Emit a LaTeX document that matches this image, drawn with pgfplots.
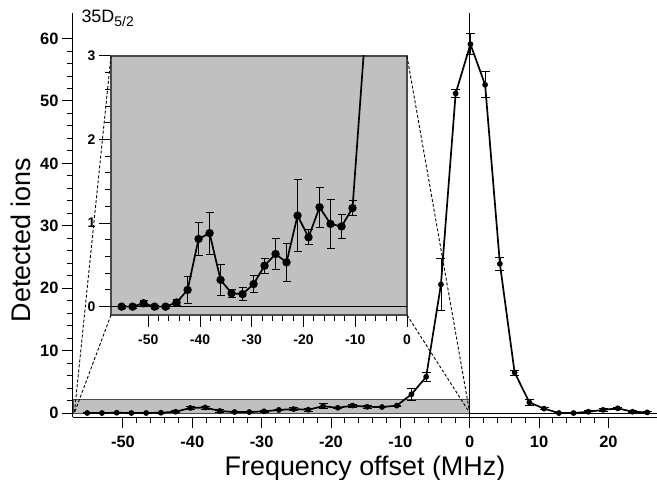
\documentclass[border=0pt]{standalone}
\usepackage{pgfplots}
\pgfplotsset{compat=1.18}
\usepackage{pgfplotstable}
\usepackage{fontspec}
\setmainfont{Liberation Sans}
\definecolor{zoomgray}{HTML}{C0C0C0}
\definecolor{edgegray}{HTML}{4A4A4A}

% frequency offset (MHz), detected ions, error
\pgfplotstableread{
x y e
-55.15 0.00 0.02
-53.03 0.00 0.02
-50.90 0.04 0.03
-48.78 0.00 0.02
-46.65 0.00 0.02
-44.53 0.05 0.04
-42.40 0.20 0.16
-40.28 0.81 0.20
-38.15 0.88 0.25
-36.03 0.32 0.18
-33.90 0.16 0.05
-31.78 0.15 0.08
-29.65 0.27 0.10
-27.53 0.49 0.09
-25.40 0.63 0.19
-23.28 0.53 0.23
-21.15 1.09 0.43
-19.03 0.83 0.09
-16.90 1.19 0.24
-14.78 0.99 0.29
-12.65 0.96 0.14
-10.53 1.18 0.09
-8.40 3.00 0.90
-6.28 5.80 0.75
-4.15 20.6 4.1
-2.03 51.2 0.7
0.10 59.1 1.7
2.22 52.6 2.1
4.35 23.9 1.0
6.47 6.5 0.4
8.60 1.7 0.5
10.72 0.7 0.2
12.85 0.0 0.1
14.97 0.0 0.1
17.10 0.2 0.2
19.22 0.5 0.3
21.35 0.75 0.2
23.47 0.2 0.15
25.60 0.1 0.1
}\spectrum

\begin{document}
\begin{tikzpicture}
\begin{axis}[name=main, scale only axis, width=584bp, height=404bp,
  xmin=-57.2, xmax=27, ymin=-0.64, ymax=64.1, clip=false,
  axis x line=bottom, axis y line=left, axis line style={-, line width=1bp},
  tick align=outside, xtick={-50,-40,...,20}, ytick={0,10,...,60}, minor tick num=4,
  major tick length=11bp, minor tick length=6bp,
  every tick/.style={black, line width=1bp},
  ticklabel style={font=\fontsize{16.5}{16.5}\selectfont\bfseries},
  xticklabel style={yshift=-4bp},
  /pgf/number format/assume math mode=true,
  xlabel={Frequency offset (MHz)}, ylabel={Detected ions},
  label style={font=\fontsize{27}{27}\selectfont},
  xlabel style={at={(rel axis cs:0.5,-0.1436)}, anchor=base},
  ylabel style={at={(rel axis cs:-0.0736,0.438)}, anchor=base}]
\fill[zoomgray, draw=edgegray, line width=0.8bp] (axis cs:-57.2,-0.05) rectangle (axis cs:0,2.25);
\draw[line width=1bp] (axis cs:0,-0.64) -- (axis cs:0,64.1);
\draw[line width=1bp] (axis cs:0,0) -- (axis cs:27,0);
\coordinate (zl) at (axis cs:-57.0,0);
\coordinate (zr) at (axis cs:0,0);
\addplot[black, line width=1.7bp, mark=*, mark size=2bp,
  error bars/.cd, y dir=both, y explicit,
  error bar style={line width=0.8bp},
  error mark options={rotate=90, mark size=4.5bp, line width=0.8bp}]
  table[x=x, y=y, y error=e] {\spectrum};
\node[anchor=base west, font=\fontsize{18}{18}\selectfont, inner sep=0pt]
  at (axis cs:-56.0,62.5) {35D\raisebox{-4bp}{\fontsize{14}{14}\selectfont 5/2}};
\end{axis}

\begin{axis}[name=inset, at={(38bp,102bp)}, anchor=south west,
  scale only axis, width=296bp, height=259bp,
  xmin=-57.2, xmax=0, ymin=-0.1, ymax=3,
  axis background/.style={fill=zoomgray},
  axis line style={edgegray, line width=1.2bp},
  tick align=outside, xtick={-50,-40,...,0}, ytick={0,1,2,3}, minor tick num=4,
  xtick pos=bottom, ytick pos=left,
  major tick length=12bp, minor tick length=6bp,
  every tick/.style={black, line width=1bp},
  ticklabel style={font=\fontsize{14}{14}\selectfont\bfseries},
  xticklabel style={yshift=-4bp},
  /pgf/number format/assume math mode=true]
\draw[line width=1bp] (axis cs:-57.2,0) -- (axis cs:0,0);
\addplot[black, line width=1.7bp, restrict x to domain=-11:-3, forget plot]
  table[x=x, y=y] {\spectrum};
\addplot[black, line width=1.7bp, mark=*, mark size=3.3bp, restrict x to domain=-60:-10,
  error bars/.cd, y dir=both, y explicit,
  error bar style={line width=0.8bp},
  error mark options={rotate=90, mark size=4bp, line width=0.8bp}]
  table[x=x, y=y, y error=e] {\spectrum};
\end{axis}

\draw[line width=0.9bp, dash pattern=on 3bp off 2bp] (inset.north west) -- (zl);
\draw[line width=0.9bp, dash pattern=on 3bp off 2bp] (inset.south west) -- (zl);
\draw[line width=0.9bp, dash pattern=on 3bp off 2bp] (inset.north east) -- (zr);
\draw[line width=0.9bp, dash pattern=on 3bp off 2bp] (inset.south east) -- (zr);

\pgfresetboundingbox
\useasboundingbox (-73bp,-63bp) rectangle (584bp,417bp);
\end{tikzpicture}
\end{document}
